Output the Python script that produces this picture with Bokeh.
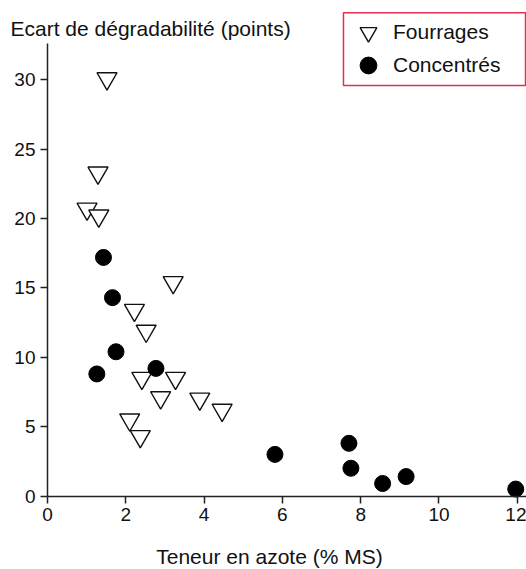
from bokeh.plotting import figure
from bokeh.models import Range1d, FixedTicker, Label, Legend, LegendItem, BoxAnnotation
from bokeh.embed import file_html
from bokeh.resources import INLINE

# Data
fourrages_x = [1.52, 1.29, 1.01, 1.31, 3.21, 2.22, 2.52, 2.41, 3.27, 2.89, 3.89, 4.46, 2.10, 2.37]
fourrages_y = [30.1, 23.3, 20.7, 20.2, 15.4, 13.4, 11.9, 8.5, 8.5, 7.1, 7.0, 6.2, 5.5, 4.3]
conc_x = [1.43, 1.66, 1.75, 2.77, 1.26, 5.81, 7.70, 7.75, 8.56, 9.16, 11.96]
conc_y = [17.2, 14.3, 10.4, 9.2, 8.8, 3.0, 3.8, 2.0, 0.9, 1.4, 0.5]
x_ticks = [0, 2, 4, 6, 8, 10, 12]
y_ticks = [0, 5, 10, 15, 20, 25, 30]
x_title = "Teneur en azote (% MS)"
y_title = "Ecart de dégradabilité (points)"
series_names = ["Fourrages", "Concentrés"]

FONT = "Liberation Sans"

p = figure(width=526, height=569, output_backend="svg", toolbar_location=None,
           x_range=Range1d(-1.2005, 12.235), y_range=Range1d(-5.299, 35.725),
           min_border_left=0, min_border_right=0, min_border_top=0, min_border_bottom=0,
           background_fill_color="white", border_fill_color="white")
p.outline_line_color = None
p.xgrid.visible = False
p.ygrid.visible = False

for ax, ticks, bnds in ((p.xaxis[0], x_ticks, (0, 12.235)), (p.yaxis[0], y_ticks, (0, 32.6))):
    ax.ticker = FixedTicker(ticks=ticks)
    ax.fixed_location = 0
    ax.bounds = bnds
    ax.minor_tick_line_color = None
    ax.major_tick_in = 0
    ax.major_tick_out = 7
    ax.major_tick_line_width = 1.5
    ax.major_tick_line_color = "#222222"
    ax.axis_line_width = 1.5
    ax.axis_line_color = "#222222"
    ax.major_label_text_font = FONT
    ax.major_label_text_font_size = "19px"
    ax.major_label_text_color = "#111111"
    ax.major_label_standoff = 5

r_f = p.scatter(fourrages_x, fourrages_y, marker="inverted_triangle", size=20,
                fill_color="white", line_color="#111111", line_width=1.4)
r_c = p.scatter(conc_x, conc_y, marker="circle", size=16,
                fill_color="#000000", line_color="#000000")

# legend frame
p.add_layout(BoxAnnotation(left=7.56, right=12.21, top=34.84, bottom=29.6,
                           fill_color="white", fill_alpha=1.0,
                           line_color="#e0304e", line_width=1.5, line_alpha=1.0))

common = dict(padding=0, spacing=0, margin=0, glyph_width=50, glyph_height=42,
              label_height=24, label_width=132, label_standoff=0,
              label_text_font=FONT, label_text_font_size="21px",
              label_text_color="#111111", border_line_color=None,
              background_fill_alpha=0.0)
leg1 = Legend(items=[LegendItem(label=series_names[0], renderers=[r_f])],
              location=(343, 516), **common)
leg2 = Legend(items=[LegendItem(label=series_names[1], renderers=[r_c])],
              location=(343, 483), **common)
p.add_layout(leg1, "center")
p.add_layout(leg2, "center")

p.add_layout(Label(x=-0.945, y=33.72, text=y_title, text_font=FONT,
                   text_font_size="21px", text_color="#111111",
                   text_align="left", text_baseline="middle"))
p.add_layout(Label(x=5.67, y=-4.38, text=x_title, text_font=FONT,
                   text_font_size="21px", text_color="#111111",
                   text_align="center", text_baseline="middle"))

open("out.html", "w").write(file_html(p, INLINE))
